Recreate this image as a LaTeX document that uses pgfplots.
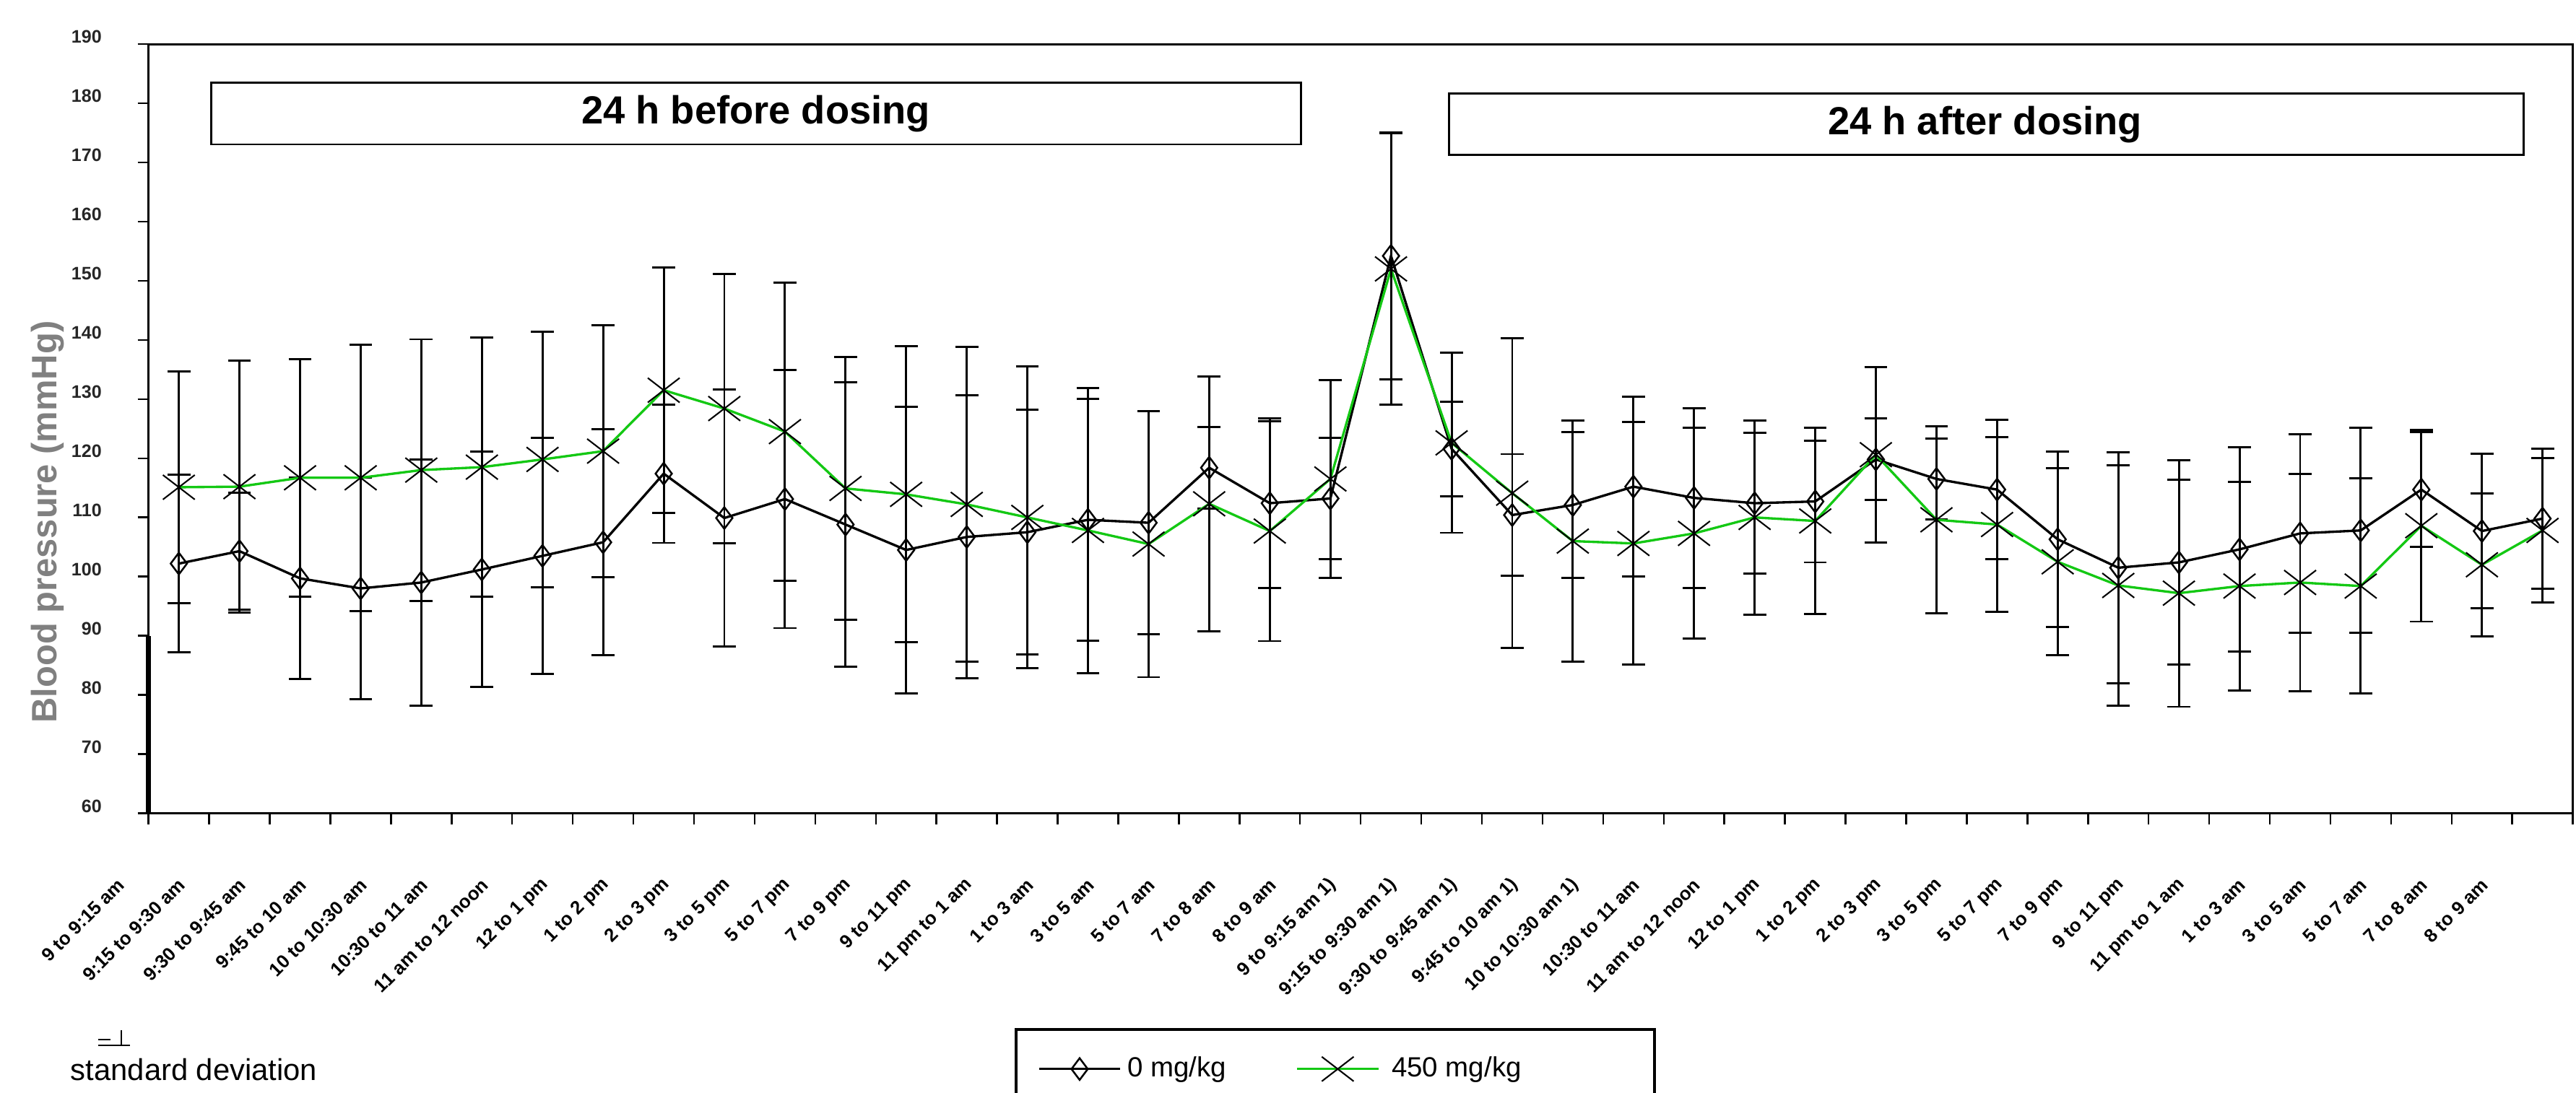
\documentclass[border=0pt]{standalone}
\usepackage{pgfplots}
\pgfplotsset{compat=1.18}
\usepackage{pgfplotstable}
\usepackage{fontspec}
\setmainfont{Liberation Sans}
\definecolor{dgreen}{RGB}{20,200,20}
\definecolor{lblgray}{RGB}{128,128,128}

\pgfplotstableread{
x y e
0 102.2 15.0
1 104.3 9.9
2 99.7 17.0
3 98.0 18.7
4 99.0 20.8
5 101.2 19.9
6 103.5 19.9
7 105.8 19.1
8 117.4 11.7
9 109.9 21.7
10 113.1 21.8
11 108.8 24.0
12 104.5 24.2
13 106.7 23.9
14 107.5 20.7
15 109.6 20.4
16 109.1 18.8
17 118.4 6.9
18 112.4 14.3
19 113.2 10.3
20 154.2 20.9
21 121.6 8.0
22 110.4 10.3
23 112.1 12.3
24 115.2 15.2
25 113.3 15.2
26 112.4 11.9
27 112.7 10.3
28 119.8 6.9
29 116.5 6.8
30 114.7 11.8
31 106.3 14.8
32 101.5 19.5
33 102.4 17.3
34 104.6 17.3
35 107.3 16.8
36 107.8 17.3
37 114.7 9.7
38 107.7 13.1
39 109.8 11.8
}\ctrl

\pgfplotstableread{
x y e
0 115.1 19.6
1 115.2 21.3
2 116.7 20.1
3 116.7 22.5
4 118.0 22.1
5 118.5 21.9
6 119.8 21.6
7 121.2 21.3
8 131.5 20.7
9 128.4 22.8
10 124.5 25.2
11 114.9 22.2
12 113.9 25.0
13 112.2 26.6
14 110.0 25.5
15 107.8 24.1
16 105.5 22.5
17 112.3 21.5
18 107.7 18.6
19 116.5 16.7
20 152.0 22.9
21 122.6 15.2
22 114.1 26.2
23 106.0 20.4
24 105.6 20.5
25 107.3 17.8
26 110.0 16.4
27 109.4 15.7
28 120.6 14.8
29 109.6 15.8
30 108.8 14.8
31 102.5 15.8
32 98.5 20.3
33 97.2 19.2
34 98.4 17.6
35 99.0 18.4
36 98.4 18.2
37 108.6 16.2
38 102.0 12.1
39 107.8 12.2
}\dose

\begin{document}
\begin{tikzpicture}
\begin{axis}[
  at={(0,0)}, anchor=south west,
  scale only axis,
  width=28.233cm, height=8.961cm,
  xmin=-0.5, xmax=39.5, ymin=60, ymax=190,
  ytick={60,70,...,190},
  xtick={0,...,39},
  xticklabels={9 to 9:15 am,9:15 to 9:30 am,9:30 to 9:45 am,9:45 to 10 am,10 to 10:30 am,10:30 to 11 am,11 am to 12 noon,12 to 1 pm,1 to 2 pm,2 to 3 pm,3 to 5 pm,5 to 7 pm,7 to 9 pm,9 to 11 pm,11 pm to 1 am,1 to 3 am,3 to 5 am,5 to 7 am,7 to 8 am,8 to 9 am,9 to 9:15 am 1),9:15 to 9:30 am 1),9:30 to 9:45 am 1),9:45 to 10 am 1),10 to 10:30 am 1),10:30 to 11 am,11 am to 12 noon,12 to 1 pm,1 to 2 pm,2 to 3 pm,3 to 5 pm,5 to 7 pm,7 to 9 pm,9 to 11 pm,11 pm to 1 am,1 to 3 am,3 to 5 am,5 to 7 am,7 to 8 am,8 to 9 am},
  minor xtick={-0.5,0.5,...,39.5},
  tick pos=left, tick align=outside,
  major tick length=3.6pt, minor tick length=3.6pt,
  major x tick style={draw=none},
  tick style={black, line width=0.6pt},
  axis line style={line width=0.7pt},
  /pgf/number format/assume math mode=true,
  yticklabel style={font=\bfseries\fontsize{6}{7}\selectfont, text=black!85, xshift=-8.4pt, yshift=2.4pt},
  xticklabel style={font=\bfseries\fontsize{6.2}{7}\selectfont, anchor=east, inner sep=0pt, xshift=-19pt, yshift=-19pt, rotate=45},
  ylabel={Blood pressure (mmHg)},
  every axis y label/.style={at={(axis description cs:-0.0416,0.3787)}, rotate=90, anchor=center, font=\bfseries\fontsize{11.7}{13}\selectfont, text=lblgray},
  clip=false,
  legend style={at={(0.3573,-0.2792)}, anchor=north west, draw=black, line width=1pt, inner xsep=7.1pt, inner ysep=7pt, font=\fontsize{9.2}{11}\selectfont, legend columns=2, /tikz/every even column/.append style={column sep=21pt}, cells={anchor=west}},
  legend image code/.code={\draw[#1, mark=none] (0pt,0pt) -- (27pt,0pt); \draw[#1, only marks] plot coordinates {(13.5pt,0pt)};},
]
\addplot[black, line width=0.8pt, mark=diamond, mark size=3.6pt, mark options={solid, black, line width=0.6pt},
  error bars/.cd, y dir=both, y explicit, error bar style={black, line width=0.7pt},
  error mark options={rotate=90, black, mark size=3.8pt, line width=0.7pt}]
  table[x=x, y=y, y error=e] {\ctrl};
\addlegendentry{0 mg/kg}
\addplot[dgreen, line width=0.8pt, mark=x, mark size=5.75pt, mark options={solid, black, line width=0.5pt, xscale=1.3},
  error bars/.cd, y dir=both, y explicit, error bar style={black, line width=0.7pt},
  error mark options={rotate=90, black, mark size=3.8pt, line width=0.7pt}]
  table[x=x, y=y, y error=e] {\dose};
\addlegendentry{\hspace{2pt}\makebox[78pt][l]{450 mg/kg}}

\draw[line width=0.7pt] (axis cs:0.53,173.05) rectangle (axis cs:18.51,183.45);
\node[font=\bfseries\fontsize{13}{15}\selectfont] at (axis cs:9.52,178.25) {24 h before dosing};
\draw[line width=0.7pt] (axis cs:20.96,171.3) rectangle (axis cs:38.69,181.6);
\node[font=\bfseries\fontsize{13}{15}\selectfont] at (axis cs:29.8,176.45) {24 h after dosing};
\draw[line width=1.8pt] (axis cs:-0.5,60) -- (axis cs:-0.5,90);

\node[anchor=base west, font=\fontsize{10}{12}\selectfont, inner sep=0pt] at (axis description cs:-0.0324,-0.3477) {standard deviation};
\draw[line width=0.6pt] (axis description cs:-0.02076,-0.3017) -- (axis description cs:-0.00766,-0.3017);
\draw[line width=0.6pt] (axis description cs:-0.01123,-0.2820) -- (axis description cs:-0.01123,-0.3017);
\draw[line width=0.6pt] (axis description cs:-0.02076,-0.2942) -- (axis description cs:-0.0157,-0.2942);
\end{axis}
\pgfresetboundingbox
\useasboundingbox (-1.730,-3.2506) rectangle (28.270,9.4743);
\end{tikzpicture}
\end{document}
